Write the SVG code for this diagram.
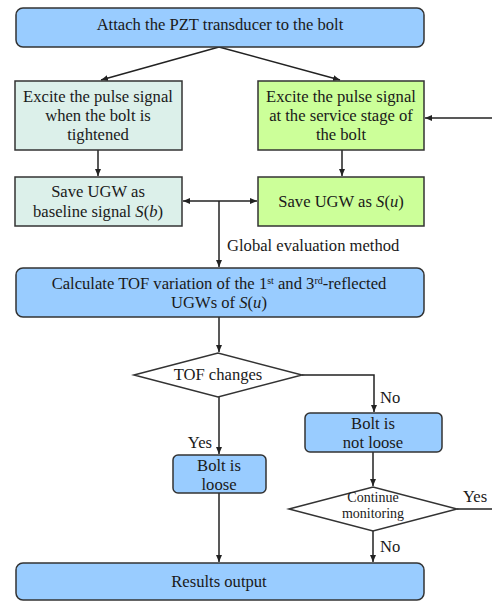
<svg xmlns="http://www.w3.org/2000/svg" width="492" height="601" viewBox="0 0 492 601" font-family="Liberation Serif, Times New Roman, serif">
<style>
text{font-size:16.6px;fill:#1a1a1a}
.c{text-anchor:middle}
.blue{fill:#99ccff;stroke:#333;stroke-width:1.5}
.teal{fill:#dcf0ea;stroke:#333;stroke-width:1.5}
.green{fill:#ccff99;stroke:#333;stroke-width:1.5}
.dia{fill:#fff;stroke:#333;stroke-width:1.5}
.ln{fill:none;stroke:#222;stroke-width:1.5}
.sm{font-size:14px}
</style>
<defs>
<marker id="ah" markerWidth="8" markerHeight="8" refX="7" refY="4" orient="auto" markerUnits="userSpaceOnUse">
<path d="M0,1 L7,4 L0,7 z" fill="#222"/>
</marker>
<marker id="as" markerWidth="8" markerHeight="8" refX="0" refY="4" orient="auto" markerUnits="userSpaceOnUse">
<path d="M7,1 L0,4 L7,7 z" fill="#222"/>
</marker>
</defs>
<g id="connectors">
<line class="ln" x1="219" y1="47" x2="101" y2="80" marker-end="url(#ah)"/>
<line class="ln" x1="219" y1="47" x2="340" y2="80" marker-end="url(#ah)"/>
<line class="ln" x1="492" y1="118" x2="425" y2="118" marker-end="url(#ah)"/>
<line class="ln" x1="98" y1="150" x2="98" y2="176" marker-end="url(#ah)"/>
<line class="ln" x1="342" y1="150" x2="342" y2="176" marker-end="url(#ah)"/>
<line class="ln" x1="183" y1="201" x2="257" y2="201" marker-start="url(#as)" marker-end="url(#ah)"/>
<line class="ln" x1="219" y1="201" x2="219" y2="267" marker-end="url(#ah)"/>
<line class="ln" x1="219" y1="317" x2="219" y2="352" marker-end="url(#ah)"/>
<polyline class="ln" points="302,375 374,375 374,412" marker-end="url(#ah)"/>
<line class="ln" x1="219" y1="397" x2="219" y2="454" marker-end="url(#ah)"/>
<line class="ln" x1="219" y1="493" x2="219" y2="562" marker-end="url(#ah)"/>
<line class="ln" x1="373" y1="452" x2="373" y2="486" marker-end="url(#ah)"/>
<line class="ln" x1="457" y1="509" x2="492" y2="509"/>
<line class="ln" x1="373" y1="531" x2="373" y2="562" marker-end="url(#ah)"/>
<text x="227" y="251">Global evaluation method</text>
<text x="380" y="403">No</text>
<text x="212" y="448" text-anchor="end">Yes</text>
<text x="463" y="502">Yes</text>
<text x="380" y="552">No</text>
</g>
<g id="attach">
<rect class="blue" x="16" y="8" width="408" height="39" rx="7"/>
<text class="c" x="220" y="30">Attach the PZT transducer to the bolt</text>
</g>
<g id="excite-tight">
<rect class="teal" x="15" y="81" width="167" height="69"/>
<text class="c" x="98" y="102">Excite the pulse signal</text>
<text class="c" x="98" y="121">when the bolt is</text>
<text class="c" x="98" y="140">tightened</text>
</g>
<g id="excite-service">
<rect class="green" x="258" y="81" width="166" height="69"/>
<text class="c" x="341" y="102">Excite the pulse signal</text>
<text class="c" x="341" y="121">at the service stage of</text>
<text class="c" x="341" y="140">the bolt</text>
</g>
<g id="save-baseline">
<rect class="teal" x="15" y="177" width="167" height="49"/>
<text class="c" x="98" y="197">Save UGW as</text>
<text class="c" x="98" y="217">baseline signal <tspan font-style="italic">S</tspan>(<tspan font-style="italic">b</tspan>)</text>
</g>
<g id="save-su">
<rect class="green" x="258" y="177" width="166" height="49"/>
<text class="c" x="341" y="207">Save UGW as <tspan font-style="italic">S</tspan>(<tspan font-style="italic">u</tspan>)</text>
</g>
<g id="calculate">
<rect class="blue" x="16" y="268" width="408" height="49" rx="7"/>
<text class="c" x="219" y="289">Calculate TOF variation of the 1<tspan font-size="10" dy="-5">st</tspan><tspan dy="5"> and 3</tspan><tspan font-size="10" dy="-5">rd</tspan><tspan dy="5">-reflected</tspan></text>
<text class="c" x="219" y="308">UGWs of <tspan font-style="italic">S</tspan>(<tspan font-style="italic">u</tspan>)</text>
</g>
<g id="tof-changes">
<polygon class="dia" points="134,375 218,353 302,375 218,397"/>
<text class="c" x="218" y="380">TOF changes</text>
</g>
<g id="not-loose">
<rect class="blue" x="305" y="413" width="137" height="39" rx="5"/>
<text class="c" x="373" y="429">Bolt is</text>
<text class="c" x="373" y="448">not loose</text>
</g>
<g id="loose">
<rect class="blue" x="173" y="455" width="93" height="38" rx="5"/>
<text class="c" x="219" y="471">Bolt is</text>
<text class="c" x="219" y="490">loose</text>
</g>
<g id="continue">
<polygon class="dia" points="289,509 373,487 457,509 373,531"/>
<text class="c sm" x="373" y="502">Continue</text>
<text class="c sm" x="373" y="518">monitoring</text>
</g>
<g id="results">
<rect class="blue" x="16" y="563" width="408" height="37" rx="7"/>
<text class="c" x="219" y="587">Results output</text>
</g>
</svg>
